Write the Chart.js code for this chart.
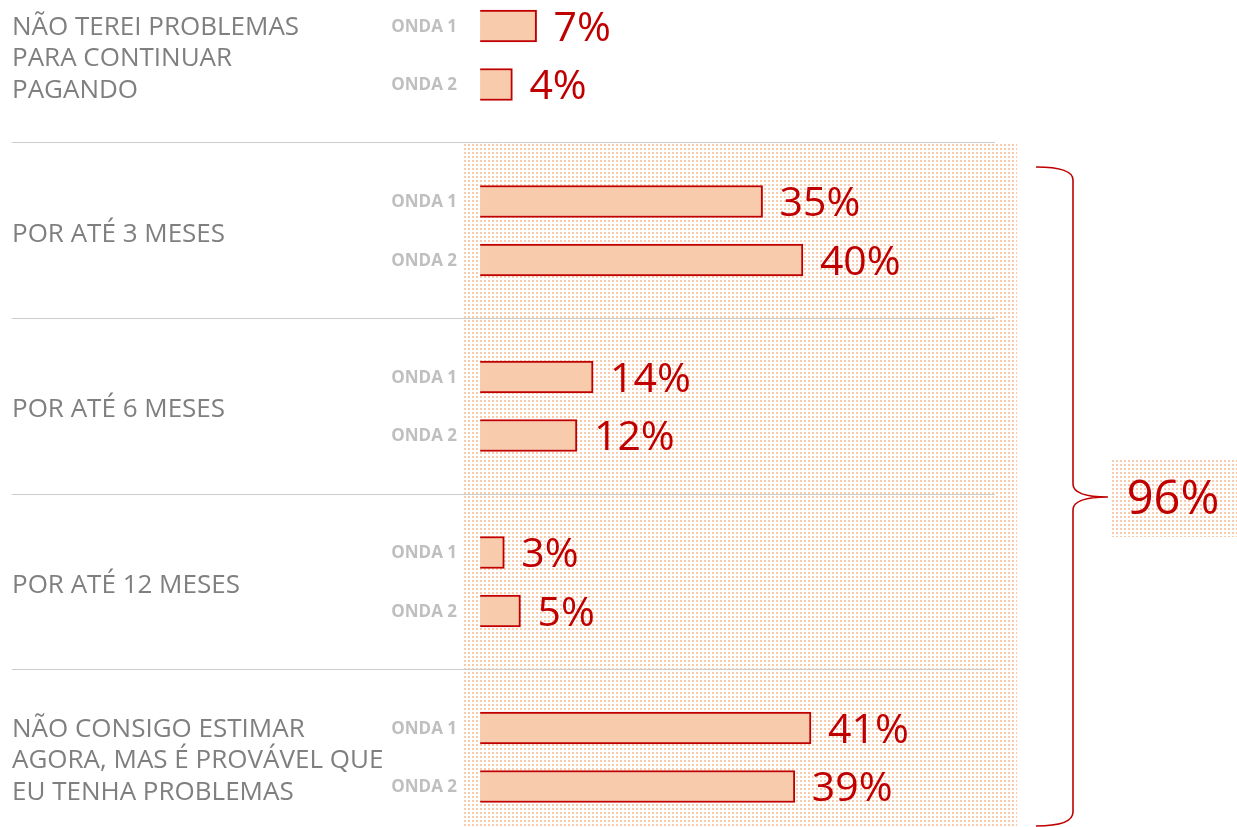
<!DOCTYPE html>
<html>
<head>
<meta charset="utf-8">
<script src="https://cdn.jsdelivr.net/npm/chart.js@4"></script>
<style>
  body { margin: 0; background: #fff; }
  #box { position: relative; width: 1237px; height: 827px; }
</style>
</head>
<body>
<div id="box"><canvas id="grafico"></canvas></div>
<script>
// categorias (uma linha por item do array)
const categorias = [
    ["NÃO TEREI PROBLEMAS", "PARA CONTINUAR", "PAGANDO"],
    ["POR ATÉ 3 MESES"],
    ["POR ATÉ 6 MESES"],
    ["POR ATÉ 12 MESES"],
    ["NÃO CONSIGO ESTIMAR", "AGORA, MAS É PROVÁVEL QUE", "EU TENHA PROBLEMAS"]
];
const ondas = ["ONDA 1", "ONDA 2"];
const onda1 = [7, 35, 14, 3, 41];
const onda2 = [4, 40, 12, 5, 39];
const total = "96%";

const vermelho = "#c00000";
const salmao = "#f8cbad";
const fonte = "'Open Sans', 'Noto Sans', sans-serif";

// cada categoria ocupa 3 posicoes: onda 1, onda 2, espaco
function pontos(valores, desloc) {
    return valores.map((v, i) => ({ x: v, y: i * 3 + desloc }));
}

function padraoPontilhado(ctx) {
    const c = document.createElement("canvas");
    c.width = 4; c.height = 4;
    const g = c.getContext("2d");
    g.fillStyle = salmao;
    g.fillRect(0, 0, 2, 2);
    return ctx.createPattern(c, "repeat");
}

const decoracao = {
    id: "decoracao",
    beforeDraw(chart) {
        const ctx = chart.ctx;
        const x = chart.scales.x, y = chart.scales.y;
        const x0 = x.getPixelForValue(0);
        ctx.save();
        ctx.fillStyle = padraoPontilhado(ctx);
        // area pontilhada atras das categorias 2 a 5
        const topo = y.getPixelForValue(2);
        ctx.fillRect(x0 - 18, topo, 555, chart.height - topo);
        // caixa do total
        ctx.fillRect(1110, 459, 127, 78);
        ctx.restore();
    },
    afterDatasetsDraw(chart) {
        const ctx = chart.ctx;
        const y = chart.scales.y;
        ctx.save();

        // valores das barras
        ctx.fillStyle = vermelho;
        ctx.font = "41px " + fonte;
        ctx.textBaseline = "middle";
        ctx.textAlign = "left";
        chart.data.datasets.forEach((ds, d) => {
            chart.getDatasetMeta(d).data.forEach((bar, i) => {
                ctx.fillText(ds.data[i].x + "%", bar.x + 17, bar.y + 3);
            });
        });

        // rotulos ONDA
        ctx.fillStyle = "#bfbfbf";
        ctx.font = "bold 17px " + fonte;
        ctx.textAlign = "right";
        categorias.forEach((c, i) => {
            ondas.forEach((o, j) => {
                ctx.fillText(o, 457, y.getPixelForValue(i * 3 + j) + 1);
            });
        });

        // categorias
        ctx.fillStyle = "#7f7f7f";
        ctx.font = "26px " + fonte;
        ctx.textAlign = "left";
        const alturaLinha = 31.5;
        categorias.forEach((linhas, i) => {
            const meio = y.getPixelForValue(i * 3 + 0.5) + 3.5;
            linhas.forEach((l, k) => {
                const yy = meio + (k - (linhas.length - 1) / 2) * alturaLinha;
                ctx.fillText(l, 12, yy);
            });
        });

        // chave
        ctx.strokeStyle = vermelho;
        ctx.lineWidth = 1.6;
        ctx.beginPath();
        ctx.moveTo(1036, 167);
        ctx.quadraticCurveTo(1073, 167, 1073, 180);
        ctx.lineTo(1073, 484);
        ctx.quadraticCurveTo(1073, 497, 1108, 497);
        ctx.quadraticCurveTo(1073, 497, 1073, 510);
        ctx.lineTo(1073, 812);
        ctx.quadraticCurveTo(1073, 826, 1036, 826);
        ctx.stroke();

        // total
        ctx.fillStyle = vermelho;
        ctx.font = "47px " + fonte;
        ctx.textAlign = "center";
        ctx.fillText(total, 1173, 501);
        ctx.restore();
    }
};

const estiloBarra = {
    backgroundColor: salmao,
    borderColor: vermelho,
    borderWidth: 2,
    barThickness: 32,
    grouped: false
};

const config = {
    type: "bar",
    data: {
        datasets: [
            { label: ondas[0], data: pontos(onda1, 0), ...estiloBarra },
            { label: ondas[1], data: pontos(onda2, 1), ...estiloBarra }
        ]
    },
    options: {
        indexAxis: "y",
        responsive: true,
        maintainAspectRatio: false,
        animation: false,
        layout: { padding: { left: 12, right: 242, top: 0, bottom: 0 } },
        scales: {
            x: {
                type: "linear",
                min: -58,
                max: 63.8,
                display: false
            },
            y: {
                type: "linear",
                reverse: true,
                offset: false,
                min: -0.444,
                max: 13.692,
                afterBuildTicks: (axis) => {
                    axis.ticks = [2, 5, 8, 11].map(v => ({ value: v }));
                },
                ticks: { display: false },
                border: { display: false },
                grid: { color: "#cccccc", lineWidth: 1, drawTicks: false, offset: false }
            }
        },
        plugins: {
            legend: { display: false },
            tooltip: { enabled: false }
        }
    },
    plugins: [decoracao]
};

const grafico = new Chart(document.querySelector("#grafico"), config);
</script>
</body>
</html>
